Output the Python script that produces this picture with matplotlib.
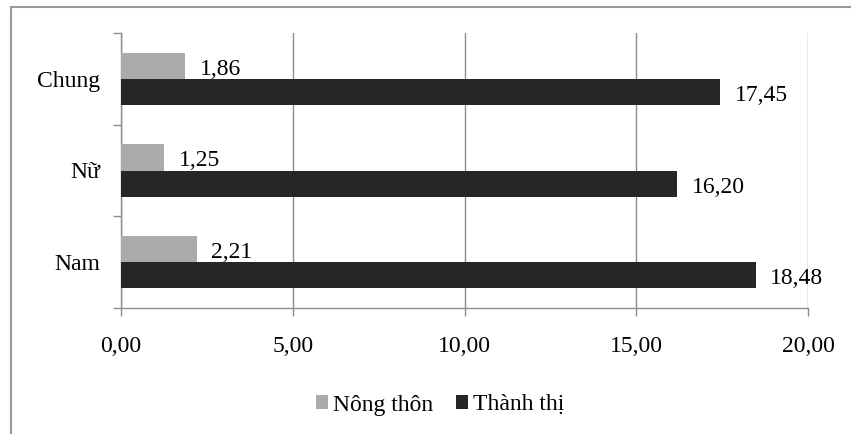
import numpy as np
import matplotlib
matplotlib.use("Agg")
import matplotlib.pyplot as plt
from matplotlib.lines import Line2D

# Tỷ lệ theo giới tính và khu vực
categories = ["Nam", "Nữ", "Chung"]
nong_thon = [2.21, 1.25, 1.86]
thanh_thi = [18.48, 16.20, 17.45]
series_names = ["Nông thôn", "Thành thị"]
x_ticks = [0, 5, 10, 15, 20]

plt.rcParams["font.family"] = ["Liberation Serif", "DejaVu Serif"]
plt.rcParams["font.size"] = 17

W, H = 851, 434
fig = plt.figure(figsize=(W / 100, H / 100), dpi=100)
ax = fig.add_axes([121 / W, 1 - 308 / H, (808 - 121) / W, (308 - 33) / H])

y = np.arange(len(categories))
h = 0.285
gray = "#ababab"
dark = "#262626"
line_col = "#8c8c8c"

b1 = ax.barh(y + h / 2, nong_thon, height=h, color=gray, label=series_names[0], zorder=3)
b2 = ax.barh(y - h / 2, thanh_thi, height=h, color=dark, label=series_names[1], zorder=3)

for bars, vals in ((b1, nong_thon), (b2, thanh_thi)):
    for bar, v in zip(bars, vals):
        ax.annotate(f"{v:.2f}".replace(".", ","),
                    xy=(v, bar.get_y() + bar.get_height() / 2),
                    xytext=(10.5, -2.5), textcoords="offset points",
                    ha="left", va="center", fontsize=17)

ax.set_xlim(0, 20)
ax.set_ylim(-0.5, len(categories) - 0.5)
ax.set_xticks(x_ticks)
ax.set_xticklabels([f"{t:.2f}".replace(".", ",") for t in x_ticks])

# tick marks at group boundaries, labels at group centres
ax.set_yticks(np.arange(len(categories) + 1) - 0.5)
ax.set_yticklabels([])
ax.set_yticks(y, minor=True)
ax.set_yticklabels(categories, minor=True)
ax.tick_params(axis="y", which="major", length=6, width=1, color=line_col, direction="out")
ax.tick_params(axis="y", which="minor", length=0, pad=15)
ax.tick_params(axis="x", length=6, width=1, color=line_col, direction="out", pad=14)

ax.grid(axis="x", color=line_col, linewidth=1, zorder=0)
for s in ("top", "right"):
    ax.spines[s].set_visible(False)
for s in ("left", "bottom"):
    ax.spines[s].set_color(line_col)
    ax.spines[s].set_linewidth(1)

fig.legend(handles=[b1, b2], loc="center", bbox_to_anchor=(440 / W, 1 - 405 / H),
           ncol=2, frameon=False, handlelength=0.5, handleheight=0.5,
           handletextpad=0.2, columnspacing=1.0, fontsize=17)

# outer chart frame
fig.add_artist(Line2D([11 / W, 1], [1 - 7 / H, 1 - 7 / H], color="#9a9a9a", lw=1.5,
                      transform=fig.transFigure))
fig.add_artist(Line2D([11 / W, 11 / W], [0, 1 - 7 / H], color="#9a9a9a", lw=1.5,
                      transform=fig.transFigure))

fig.savefig("out.png", dpi=100, facecolor="white")
